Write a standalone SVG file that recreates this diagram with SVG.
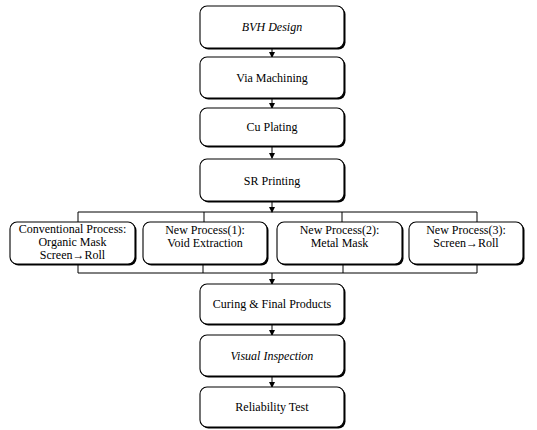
<svg xmlns="http://www.w3.org/2000/svg" width="537" height="430" viewBox="0 0 537 430">
<style>
.box{fill:#fff;stroke:#000;stroke-width:1.1}
.sh{fill:#000}
text{font-family:'Liberation Serif','DejaVu Serif',serif;font-size:12px;fill:#000;text-anchor:middle}
.i{font-style:italic}
.ln{stroke:#000;stroke-width:1;fill:none}
</style>
<defs>
<marker id="ah" markerWidth="6" markerHeight="6" refX="5" refY="3" orient="auto" markerUnits="userSpaceOnUse">
<path d="M0,0 L6,3 L0,6 z" fill="#000"/>
</marker>
</defs>
<rect width="537" height="430" fill="#fff"/>
<g id="connectors">
<line class="ln" x1="272" y1="48" x2="272" y2="57" marker-end="url(#ah)"/>
<line class="ln" x1="272" y1="99" x2="272" y2="108" marker-end="url(#ah)"/>
<line class="ln" x1="272" y1="147" x2="272" y2="158" marker-end="url(#ah)"/>
<line class="ln" x1="272" y1="202" x2="272" y2="212" marker-end="url(#ah)"/>
<polyline class="ln" points="78,222 78,212 477,212 477,222"/>
<line class="ln" x1="204" y1="212" x2="204" y2="222"/>
<line class="ln" x1="342" y1="212" x2="342" y2="222"/>
<polyline class="ln" points="78,265 78,273 477,273 477,265"/>
<line class="ln" x1="203" y1="265" x2="203" y2="273"/>
<line class="ln" x1="343" y1="265" x2="343" y2="273"/>
<line class="ln" x1="272" y1="273" x2="272" y2="284" marker-end="url(#ah)"/>
<line class="ln" x1="272" y1="324" x2="272" y2="335" marker-end="url(#ah)"/>
<line class="ln" x1="272" y1="377" x2="272" y2="387" marker-end="url(#ah)"/>
</g>
<g id="n1">
<rect class="sh" x="201.5" y="7.5" width="144" height="42" rx="7"/>
<rect class="box" x="200" y="6" width="144" height="42" rx="7"/>
<text class="i" x="272" y="31">BVH Design</text>
</g>
<g id="n2">
<rect class="sh" x="201.5" y="58.5" width="144" height="41" rx="7"/>
<rect class="box" x="200" y="57" width="144" height="41" rx="7"/>
<text x="272" y="82">Via Machining</text>
</g>
<g id="n3">
<rect class="sh" x="201.5" y="109.5" width="144" height="38" rx="7"/>
<rect class="box" x="200" y="108" width="144" height="38" rx="7"/>
<text x="272" y="131">Cu Plating</text>
</g>
<g id="n4">
<rect class="sh" x="201.5" y="160.5" width="144" height="42" rx="7"/>
<rect class="box" x="200" y="159" width="144" height="42" rx="7"/>
<text x="272" y="185">SR Printing</text>
</g>
<g id="n5">
<rect class="sh" x="11.5" y="223.5" width="125" height="42" rx="7"/>
<rect class="box" x="10" y="222" width="125" height="42" rx="7"/>
<text x="72.5" y="233">Conventional Process:</text>
<text x="72.5" y="246">Organic Mask</text>
<text x="72.5" y="259">Screen→Roll</text>
</g>
<g id="n6">
<rect class="sh" x="144.5" y="223.5" width="124" height="42" rx="7"/>
<rect class="box" x="143" y="222" width="124" height="42" rx="7"/>
<text x="205" y="234">New Process(1):</text>
<text x="205" y="247">Void Extraction</text>
</g>
<g id="n7">
<rect class="sh" x="278.5" y="223.5" width="125" height="42" rx="7"/>
<rect class="box" x="277" y="222" width="125" height="42" rx="7"/>
<text x="339.5" y="234">New Process(2):</text>
<text x="339.5" y="247">Metal Mask</text>
</g>
<g id="n8">
<rect class="sh" x="410.5" y="223.5" width="114" height="42" rx="7"/>
<rect class="box" x="409" y="222" width="114" height="42" rx="7"/>
<text x="466" y="234">New Process(3):</text>
<text x="466" y="247">Screen→Roll</text>
</g>
<g id="n9">
<rect class="sh" x="201.5" y="285.5" width="144" height="40" rx="7"/>
<rect class="box" x="200" y="284" width="144" height="40" rx="7"/>
<text x="272" y="308">Curing &amp; Final Products</text>
</g>
<g id="n10">
<rect class="sh" x="201.5" y="336.5" width="144" height="41" rx="7"/>
<rect class="box" x="200" y="335" width="144" height="41" rx="7"/>
<text class="i" x="272" y="360">Visual Inspection</text>
</g>
<g id="n11">
<rect class="sh" x="201.5" y="388.5" width="144" height="40" rx="7"/>
<rect class="box" x="200" y="387" width="144" height="40" rx="7"/>
<text x="272" y="411">Reliability Test</text>
</g>
</svg>
